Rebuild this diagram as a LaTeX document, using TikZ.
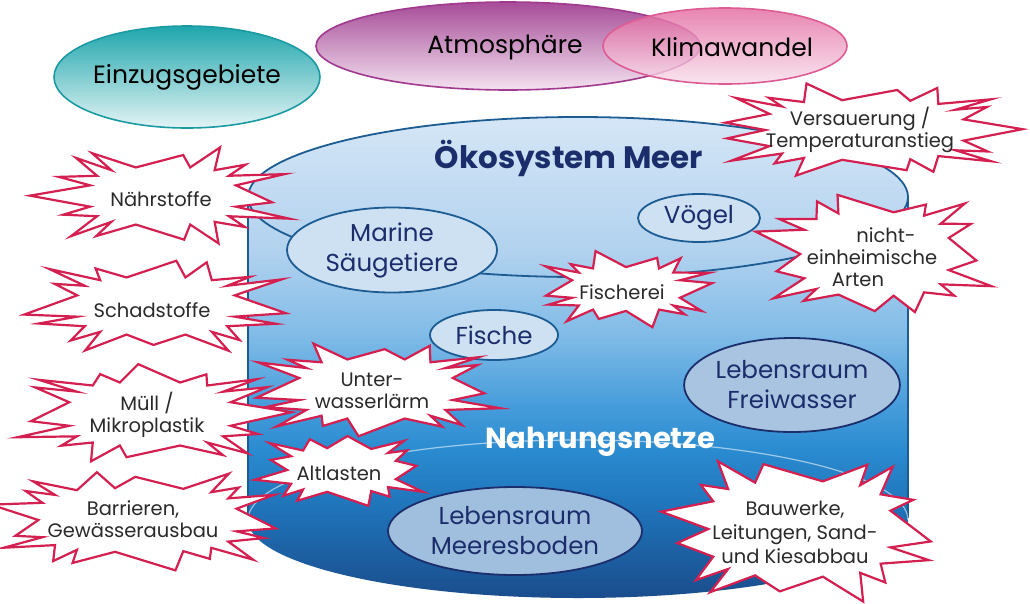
\documentclass[tikz,border=0pt]{standalone}
\usepackage{fontspec}
\setmainfont{Poppins}
\usetikzlibrary{shapes.geometric}
\definecolor{burstred}{HTML}{D42050}
\definecolor{txtgray}{HTML}{2A2A2A}
\definecolor{navy}{HTML}{1B2D6B}
\definecolor{cylline}{HTML}{1D5C93}
\definecolor{c1}{HTML}{D5E6F6}
\definecolor{c2}{HTML}{B2D2EF}
\definecolor{c3}{HTML}{80BBE7}
\definecolor{c4}{HTML}{4A9FDC}
\definecolor{c5}{HTML}{2A8BD0}
\definecolor{c6}{HTML}{1F72B8}
\definecolor{c7}{HTML}{1A4D8C}
\definecolor{tealD}{HTML}{1B9AA3}
\definecolor{tealT}{HTML}{1EA6AC}
\definecolor{tealB}{HTML}{E4F4F5}
\definecolor{purpD}{HTML}{A0398F}
\definecolor{purpT}{HTML}{A64C98}
\definecolor{purpB}{HTML}{F4E2F0}
\definecolor{pinkD}{HTML}{DD5C94}
\definecolor{pinkT}{HTML}{E3679F}
\definecolor{pinkB}{HTML}{F8E0EC}
\definecolor{ellA}{HTML}{CEE1F3}
\definecolor{ellB}{HTML}{A8C4E0}
\definecolor{ellC}{HTML}{A0BEDD}
\pgfdeclareverticalshading{cylshade}{100bp}{color(0bp)=(c7); color(25bp)=(c7); color(34bp)=(c6); color(40.4bp)=(c5); color(45.6bp)=(c4); color(52.3bp)=(c3); color(61.2bp)=(c2); color(75bp)=(c1); color(100bp)=(c1)}
\tikzset{
  topell/.style={ellipse, line width=1.6pt, text=black, font=\fontsize{25}{30}\selectfont, inner sep=0pt},
  innerell/.style={ellipse, draw=cylline, line width=1.8pt, fill=#1, text=navy, font=\fontsize{24.5}{30}\selectfont, align=center, inner sep=0pt},
  bursttext/.style={text=txtgray, font=\fontsize{19.5}{22}\selectfont, align=center, inner sep=0pt},
  burstline/.style={draw=burstred, fill=white, line width=2.2pt, line join=miter, miter limit=25},
}
% #1 centre, #2 inner x radius, #3 inner y radius, #4 spike x length, #5 spike y length, #6 seed, #7 number of spikes
\newcommand\burstshape[7]{%
  \filldraw[burstline, shift={(#1)}]
    ({#2*cos(5*sin(#6*17))*exp(-0.4*ln(abs(cos(5*sin(#6*17)))+0.01)) + (0.75+0.25*sin(#6*73))*#4*cos(5*sin(#6*17))},
     {#3*sin(5*sin(#6*17))*exp(-0.4*ln(abs(sin(5*sin(#6*17)))+0.01)) + (0.75+0.25*sin(#6*73))*#5*sin(5*sin(#6*17))})
    \foreach \k [evaluate=\k as \tv using {(\k-0.5)*360/#7},
                 evaluate=\k as \tt using {\k*360/#7 + 6*sin(\k*151+#6*17)},
                 evaluate=\k as \ff using {0.75+0.25*sin(\k*211+#6*73)}] in {1,...,\numexpr#7-1\relax} {
      -- ({#2*cos(\tv)*exp(-0.4*ln(abs(cos(\tv))+0.01))},
          {#3*sin(\tv)*exp(-0.4*ln(abs(sin(\tv))+0.01))})
      -- ({#2*cos(\tt)*exp(-0.4*ln(abs(cos(\tt))+0.01)) + \ff*#4*cos(\tt)},
          {#3*sin(\tt)*exp(-0.4*ln(abs(sin(\tt))+0.01)) + \ff*#5*sin(\tt)})
    }
    -- ({#2*cos(-180/#7)*exp(-0.4*ln(abs(cos(-180/#7))+0.01))},
        {#3*sin(-180/#7)*exp(-0.4*ln(abs(sin(-180/#7))+0.01))}) -- cycle;}
\begin{document}
\begin{tikzpicture}[x=1pt,y=-1pt]
\useasboundingbox[fill=white] (0,0) rectangle (1030,603);
% top ellipses
\node[topell, draw=tealD, top color=tealT, bottom color=tealB, minimum width=266pt, minimum height=102pt] (einz) at (187,77) {Einzugsgebiete};
\node[topell, draw=purpD, top color=purpT, bottom color=purpB, minimum width=384pt, minimum height=88pt] (atmo) at (508,46) {};
\node[topell, draw=pinkD, top color=pinkT, bottom color=pinkB, fill opacity=0.8, minimum width=244pt, minimum height=76pt] (klima) at (725,46) {};
\node[font=\fontsize{25}{30}\selectfont] (atmotxt) at (505,47) {Atmosphäre};
\node[font=\fontsize{25}{30}\selectfont] (klimatxt) at (732,47) {Klimawandel};
% cylinder
\shade[shading=cylshade] (248,197) -- (248,520) arc[start angle=180, end angle=0, x radius=330, y radius=78] -- (908,197) arc[start angle=0, end angle=-180, x radius=330, y radius=80] -- cycle;
\draw[cylline, line width=1.8pt] (578,197) ellipse [x radius=330, y radius=80];
\draw[cylline, line width=1.8pt] (248,197) -- (248,522);
\draw[cylline, line width=1.8pt] (908,197) -- (908,518);
\draw[white, opacity=0.55, line width=1.2pt] (248,520) arc[start angle=180, end angle=360, x radius=330, y radius=80];
\node[text=navy, font=\fontsize{31}{34}\selectfont\bfseries] (oeko) at (569,158) {Ökosystem Meer};
\node[text=white, font=\fontsize{29}{34}\selectfont\bfseries] (nahr) at (600,442) {Nahrungsnetze};
% inner ellipses
\node[innerell=ellA, minimum width=210pt, minimum height=85pt] (marine) at (392,250) {Marine\\Säugetiere};
\node[innerell=ellA, minimum width=122pt, minimum height=48pt] (voegel) at (699,218) {Vögel};
\node[innerell=ellA, minimum width=128pt, minimum height=50pt] (fische) at (494,335) {Fische};
\node[innerell=ellB, draw=navy, minimum width=200pt, minimum height=94pt] (frei) at (792,385) {Lebensraum\\Freiwasser};
\node[innerell=ellC, draw=navy, minimum width=254pt, minimum height=88pt] (boden) at (515,531) {Lebensraum\\Meeresboden};
% bursts
\coordinate (naehrC) at (163,196);
\burstshape{naehrC}{74}{29}{60}{22}{3}{16}
\node[bursttext] (naehr) at (161,199) {Nährstoffe};
\coordinate (schadC) at (156,306);
\burstshape{schadC}{80}{29}{58}{20}{7}{16}
\node[bursttext] (schad) at (152,310) {Schadstoffe};
\coordinate (muellC) at (150,414);
\burstshape{muellC}{82}{32}{60}{18}{11}{16}
\node[bursttext] (muell) at (147,415) {Müll /\\Mikroplastik};
\coordinate (barrC) at (138,520);
\burstshape{barrC}{100}{32}{50}{20}{5}{17}
\node[bursttext] (barr) at (133,519) {Barrieren,\\Gewässerausbau};
\coordinate (unterC) at (376,389);
\burstshape{unterC}{78}{30}{58}{18}{9}{16}
\node[bursttext] (unter) at (372,391) {Unter-\\wasserlärm};
\coordinate (altC) at (342,470);
\burstshape{altC}{55}{22}{35}{16}{13}{13}
\node[bursttext] (alt) at (339,473) {Altlasten};
\coordinate (fischC) at (626,289);
\burstshape{fischC}{55}{22}{38}{17}{17}{14}
\node[bursttext] (fisch) at (622,292) {Fischerei};
\coordinate (versC) at (865,130);
\burstshape{versC}{100}{30}{58}{18}{21}{17}
\node[bursttext] (vers) at (860,130) {Versauerung /\\Temperaturanstieg};
\coordinate (nichtC) at (875,254);
\burstshape{nichtC}{75}{42}{50}{20}{23}{15}
\node[bursttext] (nicht) at (872,257) {\hspace*{28pt}nicht-\\einheimische\\Arten\hspace*{28pt}};
\coordinate (bauC) at (800,529);
\burstshape{bauC}{92}{48}{50}{28}{27}{15}
\node[bursttext, font=\fontsize{19.5}{24}\selectfont] (bau) at (795,532) {Bauwerke,\\Leitungen, Sand-\\und Kiesabbau};
\end{tikzpicture}
\end{document}
